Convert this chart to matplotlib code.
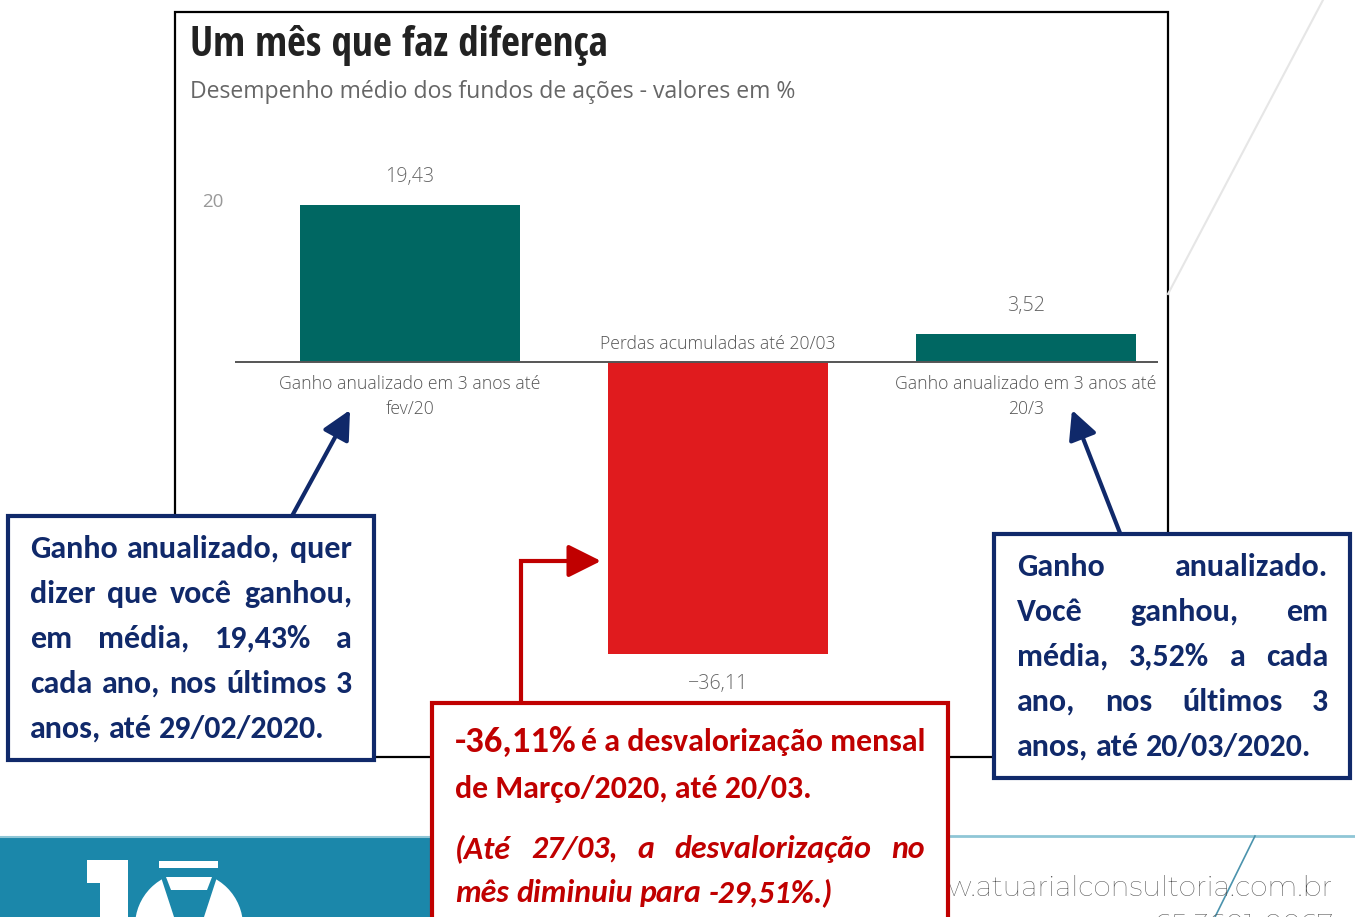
import matplotlib
matplotlib.use("Agg")
import matplotlib.pyplot as plt
from matplotlib.patches import Rectangle, Circle, Polygon

# dados do grafico
categorias = ["Ganho anualizado em 3 anos até\nfev/20",
              "Perdas acumuladas até 20/03",
              "Ganho anualizado em 3 anos até\n20/3"]
valores = [19.43, -36.11, 3.52]
rotulos = ["19,43", "\u221236,11", "3,52"]
cores = ["#006762", "#e01b1e", "#006762"]
yticks = [20]
ytick_labels = ["20"]

titulo = "Um mês que faz diferença"
subtitulo = "Desempenho médio dos fundos de ações - valores em %"

nota_esq = ["Ganho anualizado, quer", "dizer que você ganhou,",
            "em média, 19,43% a", "cada ano, nos últimos 3",
            "anos, até 29/02/2020."]
nota_dir = ["Ganho anualizado.", "Você ganhou, em",
            "média, 3,52% a cada", "ano, nos últimos 3",
            "anos, até 20/03/2020."]
nota_red_destaque = "-36,11%"
nota_red = ["é a desvalorização mensal", "de Março/2020, até 20/03."]
nota_red_italico = ["(Até 27/03, a desvalorização no", "mês diminuiu para -29,51%.)"]
site = "w.atuarialconsultoria.com.br"
telefone = "65 3601-0067"

W, H = 1355, 917
navy = "#10296a"
vermelho = "#c00000"
cinza = "#555555"
fonte_calibri = ["Carlito", "Lato", "DejaVu Sans"]
fonte_titulo = ["Open Sans Condensed", "Liberation Sans Narrow", "DejaVu Sans"]
fonte_site = ["Montserrat", "DejaVu Sans"]

fig = plt.figure(figsize=(W / 100, H / 100), dpi=100)
fig.patch.set_facecolor("white")

# fundo: moldura do grafico
ax_bg = fig.add_axes([0, 0, 1, 1], zorder=0)
ax_bg.set_xlim(0, W)
ax_bg.set_ylim(H, 0)
ax_bg.axis("off")
ax_bg.plot([1323, 1168], [0, 294], color="#e6e6e6", lw=1.5)
ax_bg.add_patch(Rectangle((175, 12), 993, 745, facecolor="white",
                          edgecolor="black", lw=1.6))

# camada de anotacoes (coordenadas em pixels)
ax_o = fig.add_axes([0, 0, 1, 1], zorder=2)
ax_o.set_xlim(0, W)
ax_o.set_ylim(H, 0)
ax_o.axis("off")
ax_o.patch.set_alpha(0)

renderer = fig.canvas.get_renderer()


def largura(s, **kw):
    t = ax_o.text(0, 0, s, **kw)
    w = t.get_window_extent(renderer).width
    t.remove()
    return w


def ajustar(s, alvo, **kw):
    # tamanho de fonte para que o texto tenha a largura medida na imagem
    return 20 * alvo / largura(s, fontsize=20, **kw)


# grafico de barras (zero em y=362, ~8.08 px por unidade)
px_un = 8.08
top_px, bot_px = 150, 700
ax = fig.add_axes([235 / W, (H - bot_px) / H, 923 / W, (bot_px - top_px) / H], zorder=1)
ax.patch.set_alpha(0)
x = list(range(len(valores)))
ax.bar(x, valores, width=0.714, color=cores)
ax.set_xlim(-0.568, 2.429)
ax.set_ylim(-(bot_px - 362) / px_un, (362 - top_px) / px_un)
ax.axhline(0, color="#555555", lw=1.4)
for s in ax.spines.values():
    s.set_visible(False)
ax.set_xticks([])
ax.set_yticks(yticks)
ax.set_yticklabels(ytick_labels, fontfamily="Open Sans", fontsize=13.5, color="#999999")
ax.tick_params(axis="y", length=0, pad=8)

fs_val = ajustar("19,43", 49, fontfamily="Open Sans", fontweight="light")
for i, (v, r) in enumerate(zip(valores, rotulos)):
    off = 20 if v > 0 else -21.5
    ax.annotate(r, (i, v), xytext=(0, off), textcoords="offset points",
                ha="center", va="center", fontfamily="Open Sans", fontweight="light",
                fontsize=fs_val, color="#666666")

fs_cat = ajustar("Ganho anualizado em 3 anos até", 260, fontfamily="Open Sans", fontweight="light")
for i, (cat, v) in enumerate(zip(categorias, valores)):
    for k, ln in enumerate(cat.split("\n")):
        off = -(22 + 25 * k) / 1.389 if v > 0 else 18 / 1.389
        ax.annotate(ln, (i, 0), xytext=(0, off), textcoords="offset points",
                    ha="center", va="center", fontfamily="Open Sans", fontweight="light",
                    fontsize=fs_cat, color=cinza)

# titulo e subtitulo
fs_tit = ajustar(titulo, 418, fontfamily=fonte_titulo, fontweight="bold", fontstretch="condensed")
ax_o.text(190, 45, titulo, fontfamily=fonte_titulo, fontweight="bold", fontstretch="condensed",
          fontsize=fs_tit, color="#222222", va="center", ha="left")
fs_sub = ajustar(subtitulo, 605, fontfamily="Open Sans")
ax_o.text(190, 92, subtitulo, fontfamily="Open Sans", fontsize=fs_sub,
          color="#666666", va="center", ha="left")

# rodape
ax_o.add_patch(Rectangle((0, 836), 440, 90, facecolor="#1b87aa", edgecolor="none"))
ax_o.plot([0, 440], [836.5, 836.5], color="#8fc6d6", lw=1.5)
ax_o.plot([940, W], [836, 836], color="#8fc6d6", lw=2)
ax_o.plot([1255, 1215], [836, 917], color="#4b93ad", lw=1.2)
ax_o.add_patch(Rectangle((100, 860), 28, 60, facecolor="white", edgecolor="none"))
ax_o.add_patch(Rectangle((87, 860), 20, 23, facecolor="white", edgecolor="none"))
ax_o.add_patch(Circle((189, 926), 54, facecolor="white", edgecolor="none"))
ax_o.add_patch(Polygon([(158, 868), (220, 868), (203, 920), (175, 920)],
                       closed=True, facecolor="#1b87aa", edgecolor="none"))
ax_o.add_patch(Rectangle((159, 861), 59, 7, facecolor="white", edgecolor="none"))
ax_o.add_patch(Polygon([(166, 877), (212, 877), (207, 890), (171, 890)],
                       closed=True, facecolor="white", edgecolor="none"))
fs_site = ajustar(site, 385, fontfamily=fonte_site, fontweight="medium")
ax_o.text(1333, 888, site, fontfamily=fonte_site, fontweight="medium", fontsize=fs_site,
          color="#4d4d4d", ha="right", va="center")
ax_o.text(1333, 926, telefone, fontfamily=fonte_site, fontweight="medium", fontsize=fs_site,
          color="#4d4d4d", ha="right", va="center")


def justificar(linhas, x0, x1, ys, **kw):
    # texto justificado palavra por palavra; ultima linha alinhada a esquerda
    espaco = largura("a a", **kw) - largura("aa", **kw)
    for n, (ln, y) in enumerate(zip(linhas, ys)):
        palavras = ln.split(" ")
        objs = [ax_o.text(0, y, p, ha="left", va="center", **kw) for p in palavras]
        larg = [o.get_window_extent(renderer).width for o in objs]
        if n == len(linhas) - 1 or len(palavras) == 1:
            gap = espaco
        else:
            gap = (x1 - x0 - sum(larg)) / (len(palavras) - 1)
        xx = x0
        for o, w in zip(objs, larg):
            o.set_x(xx)
            xx += w + gap


fs_azul = ajustar(nota_esq[-1], 294, fontfamily=fonte_calibri, fontweight="bold")
estilo_azul = dict(fontfamily=fonte_calibri, fontweight="bold", fontsize=fs_azul, color=navy, zorder=4)
seta_azul = dict(arrowstyle="-|>,head_length=0.7,head_width=0.35",
                 lw=3, color=navy, mutation_scale=25, shrinkA=0, shrinkB=0)

# caixa esquerda
ax_o.add_patch(Rectangle((8, 516), 366, 244, facecolor="white", edgecolor=navy, lw=3, zorder=3))
justificar(nota_esq, 30, 352, [549, 594, 639, 684, 729], **estilo_azul)
ax_o.annotate("", xy=(350, 410), xytext=(292, 516), arrowprops=seta_azul)

# caixa direita
ax_o.add_patch(Rectangle((994, 534), 356, 244, facecolor="white", edgecolor=navy, lw=3, zorder=3))
justificar(nota_dir, 1017, 1328, [567, 612, 657, 702, 747], **estilo_azul)
ax_o.annotate("", xy=(1072, 410), xytext=(1120, 533), arrowprops=seta_azul)

# caixa vermelha
ax_o.add_patch(Rectangle((432, 703), 516, 240, facecolor="white", edgecolor=vermelho, lw=3, zorder=3))
ax_o.plot([521, 521, 585], [703, 561, 561], color=vermelho, lw=3, solid_joinstyle="miter")
ax_o.annotate("", xy=(601, 561), xytext=(575, 561),
              arrowprops=dict(arrowstyle="-|>,head_length=1.0,head_width=0.5",
                              lw=3, color=vermelho, mutation_scale=20, shrinkA=0, shrinkB=0))
estilo_red = dict(fontfamily=fonte_calibri, fontweight="bold", color=vermelho, zorder=4)
fs_dest = ajustar(nota_red_destaque, 122, fontfamily=fonte_calibri, fontweight="bold")
fs_red = ajustar(nota_red[1], 356, fontfamily=fonte_calibri, fontweight="bold")
fs_ital = ajustar(nota_red_italico[1], 378, fontfamily=fonte_calibri, fontweight="bold",
                  fontstyle="italic")
ax_o.text(455, 742, nota_red_destaque, fontsize=fs_dest, ha="left", va="center", **estilo_red)
ax_o.text(925, 742, nota_red[0], fontsize=fs_red, ha="right", va="center", **estilo_red)
ax_o.text(455, 789, nota_red[1], fontsize=fs_red, ha="left", va="center", **estilo_red)
justificar(nota_red_italico, 455, 925, [849, 893], fontstyle="italic", fontsize=fs_ital, **estilo_red)

fig.savefig("out.png", dpi=100)
